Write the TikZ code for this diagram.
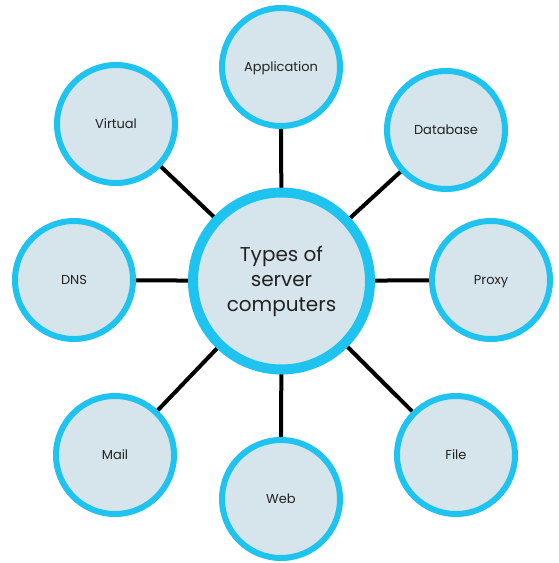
\documentclass[tikz,border=0pt]{standalone}
\usepackage{fontspec}
\setmainfont{Poppins}
\usetikzlibrary{backgrounds}
\definecolor{ringblue}{HTML}{1FC3F0}
\definecolor{discfill}{HTML}{D5E5EB}
\definecolor{txt}{HTML}{222222}
\begin{document}
\begin{tikzpicture}[x=1pt,y=-1pt,
  sat/.style={circle,draw=ringblue,fill=discfill,line width=6pt,minimum size=118pt,inner sep=0pt,text=txt,text depth=0pt,font=\fontsize{13}{15}\selectfont},
  hub/.style={circle,draw=ringblue,fill=discfill,line width=10pt,minimum size=177pt,inner sep=0pt,text=txt,align=center,font=\fontsize{20}{25}\selectfont},
  link/.style={line width=4pt,black}]
\useasboundingbox (0,0) rectangle (558,563);
\node[hub] (c) at (281.5,281) {Types of\\server\\computers};
\node[sat] (app) at (281,67) {Application};
\node[sat] (db) at (446,130) {Database};
\node[sat] (px) at (491,280) {Proxy};
\node[sat] (fi) at (456,455) {File};
\node[sat] (web) at (281,499) {Web};
\node[sat] (ma) at (115,455) {Mail};
\node[sat] (dns) at (74,280) {DNS};
\node[sat] (vi) at (116,124) {Virtual};
\begin{scope}[on background layer]
\foreach \n in {app,db,px,fi,web,ma,dns,vi}{
  \draw[link] (c.center) -- (\n.center);
}
\end{scope}
\end{tikzpicture}
\end{document}
